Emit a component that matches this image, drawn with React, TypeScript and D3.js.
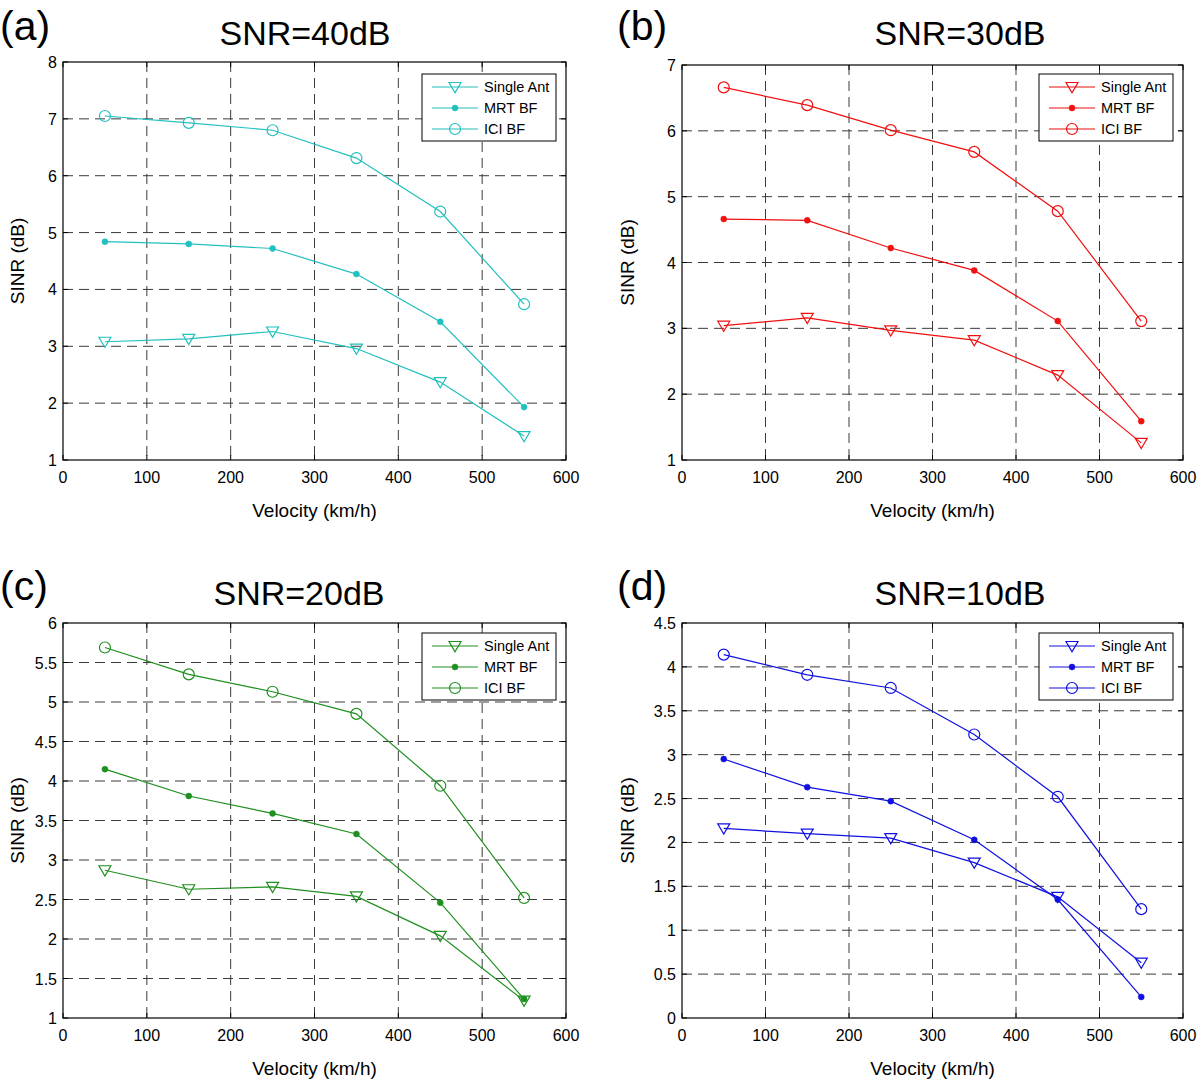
import React from "react";
import * as d3 from "d3";

const velocities = [50, 150, 250, 350, 450, 550];
const xTicks = [0, 100, 200, 300, 400, 500, 600];
const seriesNames = ["Single Ant", "MRT BF", "ICI BF"];

const singleA = [3.08, 3.13, 3.26, 2.96, 2.37, 1.42];
const mrtA = [4.84, 4.8, 4.72, 4.27, 3.43, 1.93];
const iciA = [7.05, 6.93, 6.8, 6.31, 5.37, 3.74];

const singleB = [3.04, 3.16, 2.97, 2.82, 2.29, 1.26];
const mrtB = [4.66, 4.64, 4.22, 3.88, 3.11, 1.59];
const iciB = [6.66, 6.39, 6.01, 5.68, 4.78, 3.11];

const singleC = [2.87, 2.63, 2.66, 2.54, 2.04, 1.22];
const mrtC = [4.15, 3.81, 3.59, 3.33, 2.46, 1.24];
const iciC = [5.69, 5.35, 5.13, 4.85, 3.94, 2.52];

const singleD = [2.16, 2.1, 2.05, 1.77, 1.38, 0.63];
const mrtD = [2.95, 2.63, 2.47, 2.03, 1.35, 0.24];
const iciD = [4.14, 3.91, 3.76, 3.23, 2.52, 1.24];

const yTicksA = [1, 2, 3, 4, 5, 6, 7, 8];
const yTicksB = [1, 2, 3, 4, 5, 6, 7];
const yTicksC = [1, 1.5, 2, 2.5, 3, 3.5, 4, 4.5, 5, 5.5, 6];
const yTicksD = [0, 0.5, 1, 1.5, 2, 2.5, 3, 3.5, 4, 4.5];

const panels = [
  { label: "(a)", title: "SNR=40dB", color: "#22bfbf", series: [singleA, mrtA, iciA], yTicks: yTicksA,
    left: 63, right: 566, top: 62, bottom: 460, labelX: 0, labelY: 40, titleX: 305, titleY: 45, ylabX: 24, legendY: 74 },
  { label: "(b)", title: "SNR=30dB", color: "#f01010", series: [singleB, mrtB, iciB], yTicks: yTicksB,
    left: 682, right: 1183, top: 65, bottom: 460, labelX: 617, labelY: 40, titleX: 960, titleY: 45, ylabX: 634, legendY: 74 },
  { label: "(c)", title: "SNR=20dB", color: "#1f8f1f", series: [singleC, mrtC, iciC], yTicks: yTicksC,
    left: 63, right: 566, top: 623, bottom: 1018, labelX: 0, labelY: 600, titleX: 299, titleY: 605, ylabX: 24, legendY: 633 },
  { label: "(d)", title: "SNR=10dB", color: "#1010e0", series: [singleD, mrtD, iciD], yTicks: yTicksD,
    left: 682, right: 1183, top: 623, bottom: 1018, labelX: 617, labelY: 600, titleX: 960, titleY: 605, ylabX: 634, legendY: 633 },
];

const FONT = "'Liberation Sans', Arial, Helvetica, sans-serif";

function Marker({ kind, x, y, color }: { kind: number; x: number; y: number; color: string }) {
  if (kind === 0) {
    const s = 6;
    return (
      <path
        d={`M${x - s},${y - s * 0.75}L${x + s},${y - s * 0.75}L${x},${y + s * 0.95}Z`}
        fill="none"
        stroke={color}
        strokeWidth={1.2}
      />
    );
  }
  if (kind === 1) return <circle cx={x} cy={y} r={3} fill={color} stroke={color} strokeWidth={0.5} />;
  return <circle cx={x} cy={y} r={5.5} fill="none" stroke={color} strokeWidth={1.2} />;
}

function Panel({ p }: { p: (typeof panels)[number] }) {
  const x = d3.scaleLinear().domain([0, 600]).range([p.left, p.right]);
  const yMin = p.yTicks[0];
  const yMax = p.yTicks[p.yTicks.length - 1];
  const y = d3.scaleLinear().domain([yMin, yMax]).range([p.bottom, p.top]);
  const line = d3
    .line<number>()
    .x((_, i) => x(velocities[i]))
    .y((d) => y(d));
  const tick = 5;
  const lgX = p.right - 144;
  const lgY = p.legendY;
  const midY = (p.top + p.bottom) / 2;
  return (
    <g fontFamily={FONT}>
      <text x={p.labelX} y={p.labelY} fontSize={41}>{p.label}</text>
      <text x={p.titleX} y={p.titleY} fontSize={34} textAnchor="middle">{p.title}</text>
      {xTicks.slice(1, -1).map((t) => (
        <line key={"gx" + t} x1={x(t)} x2={x(t)} y1={p.top} y2={p.bottom} stroke="#3a3a3a" strokeWidth={1} strokeDasharray="10,6" />
      ))}
      {p.yTicks.slice(1, -1).map((t) => (
        <line key={"gy" + t} x1={p.left} x2={p.right} y1={y(t)} y2={y(t)} stroke="#3a3a3a" strokeWidth={1} strokeDasharray="10,6" />
      ))}
      {xTicks.map((t) => (
        <g key={"tx" + t}>
          <line x1={x(t)} x2={x(t)} y1={p.bottom} y2={p.bottom - tick} stroke="#000" />
          <line x1={x(t)} x2={x(t)} y1={p.top} y2={p.top + tick} stroke="#000" />
          <text x={x(t)} y={p.bottom + 23} fontSize={16} textAnchor="middle">{t}</text>
        </g>
      ))}
      {p.yTicks.map((t) => (
        <g key={"ty" + t}>
          <line x1={p.left} x2={p.left + tick} y1={y(t)} y2={y(t)} stroke="#000" />
          <line x1={p.right} x2={p.right - tick} y1={y(t)} y2={y(t)} stroke="#000" />
          <text x={p.left - 6} y={y(t) + 6} fontSize={16} textAnchor="end">{t}</text>
        </g>
      ))}
      <rect x={p.left} y={p.top} width={p.right - p.left} height={p.bottom - p.top} fill="none" stroke="#000" strokeWidth={1.2} />
      <text x={(p.left + p.right) / 2} y={p.bottom + 57} fontSize={19} textAnchor="middle">Velocity (km/h)</text>
      <text transform={`translate(${p.ylabX},${midY}) rotate(-90)`} fontSize={19} textAnchor="middle">SINR (dB)</text>
      {p.series.map((s, k) => (
        <g key={"s" + k}>
          <path d={line(s) || ""} fill="none" stroke={p.color} strokeWidth={1.2} />
          {s.map((v, i) => (
            <Marker key={i} kind={k} x={x(velocities[i])} y={y(v)} color={p.color} />
          ))}
        </g>
      ))}
      <rect x={lgX} y={lgY} width={134} height={67} fill="#fff" stroke="#000" strokeWidth={1} />
      {seriesNames.map((n, k) => {
        const ry = lgY + 13 + k * 21;
        return (
          <g key={"l" + n}>
            <line x1={lgX + 10} x2={lgX + 56} y1={ry} y2={ry} stroke={p.color} strokeWidth={1.2} />
            <Marker kind={k} x={lgX + 33} y={ry} color={p.color} />
            <text x={lgX + 62} y={ry + 5} fontSize={14.5}>{n}</text>
          </g>
        );
      })}
    </g>
  );
}

export default function App() {
  return (
    <svg width={1200} height={1081} style={{ position: "absolute", left: 0, top: 0, background: "#fff" }}>
      <rect x={0} y={0} width={1200} height={1081} fill="#fff" />
      {panels.map((p) => (
        <Panel key={p.label} p={p} />
      ))}
    </svg>
  );
}
